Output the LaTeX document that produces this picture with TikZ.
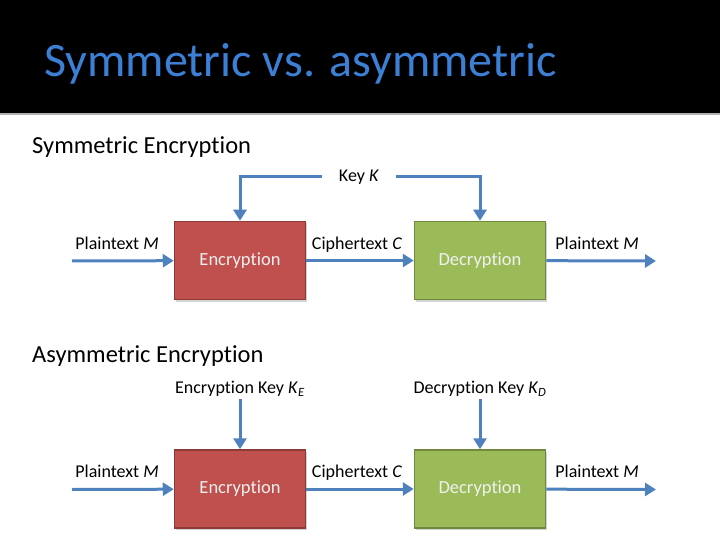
\documentclass[tikz,border=0pt]{standalone}
\usepackage{fontspec}
\setmainfont[Ligatures=NoCommon]{Carlito}
\usetikzlibrary{arrows.meta,shadows}
\definecolor{titleblue}{HTML}{3C80D6}
\definecolor{flowblue}{HTML}{4F81BD}
\definecolor{encred}{HTML}{C0504D}
\definecolor{encline}{HTML}{8C3A38}
\definecolor{decgreen}{HTML}{9BBB59}
\definecolor{decline}{HTML}{71893F}
\begin{document}
\begin{tikzpicture}[x=1pt,y=-1pt,
  blk/.style={rectangle,draw,line width=1.5pt,minimum width=131pt,minimum height=78pt,
    text=white!94!black,font=\fontsize{18.5}{22}\selectfont,
    drop shadow={opacity=0.35,shadow xshift=1.5pt,shadow yshift=-2pt}},
  enc/.style={blk,fill=encred,draw=encline},
  dec/.style={blk,fill=decgreen,draw=decline},
  flow/.style={draw=flowblue,line width=3pt,-{Triangle[length=11pt,width=13pt]}},
  lbl/.style={font=\fontsize{18}{21}\selectfont,inner sep=2pt},
  head/.style={font=\fontsize{24.5}{29}\selectfont,anchor=base west,inner sep=0pt}]
\useasboundingbox (0,0) rectangle (720,540);
\fill[black] (0,0) rectangle (720,113);
\draw[gray!60,line width=2pt] (0,114.5) -- (720,114.5);
\node[anchor=base west,inner sep=0pt,text=titleblue,font=\fontsize{48}{54}\selectfont] (title) at (44,77) {Symmetric vs. asymmetric};

% symmetric
\node[head] (symhead) at (32,154) {Symmetric Encryption};
\node[enc] (encA) at (240,260.5) {Encryption};
\node[dec] (decA) at (480,260.5) {Decryption};
\coordinate (inA) at (72,261);
\coordinate (outA) at (656,261);
\node[lbl,anchor=base] (ptinA) at (117,249) {Plaintext \textit{M}};
\node[lbl,anchor=base] (ctA) at (357,249) {Ciphertext \textit{C}};
\node[lbl,anchor=base] (ptoutA) at (597,249) {Plaintext \textit{M}};
\node[lbl,inner xsep=17pt] (key) at (359,177) {Key \textit{K}};
\draw[flow] (inA) -- (encA);
\draw[flow] (encA) -- (decA);
\draw[flow] (decA) -- (outA);
\draw[flow] (key.west) -| (encA.north);
\draw[flow] (key.east) -| (decA.north);

% asymmetric
\node[head] (asymhead) at (32,362) {Asymmetric Encryption};
\node[enc] (encB) at (240,489) {Encryption};
\node[dec] (decB) at (480,489) {Decryption};
\coordinate (inB) at (72,489.5);
\coordinate (outB) at (656,489.5);
\node[lbl,anchor=base] (ptinB) at (117,477) {Plaintext \textit{M}};
\node[lbl,anchor=base] (ctB) at (357,477) {Ciphertext \textit{C}};
\node[lbl,anchor=base] (ptoutB) at (597,477) {Plaintext \textit{M}};
\node[lbl] (keyE) at (240,389) {Encryption Key \textit{K}\textsubscript{\textit{E}}};
\node[lbl] (keyD) at (480,389) {Decryption Key \textit{K}\textsubscript{\textit{D}}};
\draw[flow] (inB) -- (encB);
\draw[flow] (encB) -- (decB);
\draw[flow] (decB) -- (outB);
\draw[flow] (keyE) -- (encB);
\draw[flow] (keyD) -- (decB);
\end{tikzpicture}
\end{document}
